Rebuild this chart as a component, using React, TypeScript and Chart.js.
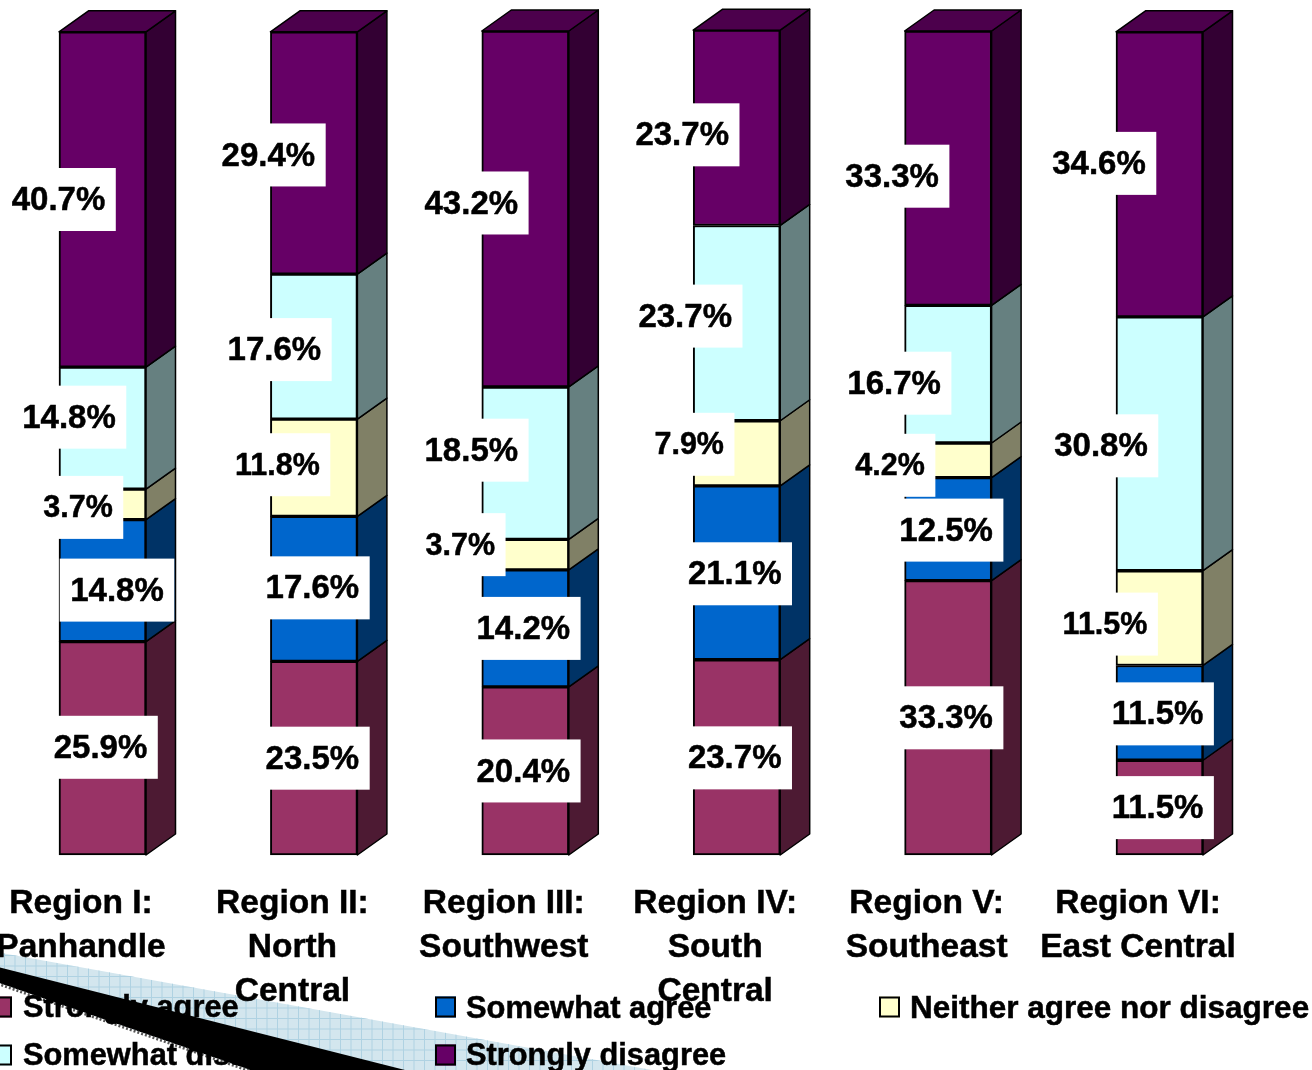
import React, { useEffect, useRef } from "react";
import { Chart, registerables } from "chart.js";

Chart.register(...registerables);

const regions = [
  ["Region I:", "Panhandle"],
  ["Region II:", "North", "Central"],
  ["Region III:", "Southwest"],
  ["Region IV:", "South", "Central"],
  ["Region V:", "Southeast"],
  ["Region VI:", "East Central"],
];

const stronglyAgree = [25.9, 23.5, 20.4, 23.7, 33.3, 11.5];
const somewhatAgree = [14.8, 17.6, 14.2, 21.1, 12.5, 11.5];
const neither = [3.7, 11.8, 3.7, 7.9, 4.2, 11.5];
const somewhatDisagree = [14.8, 17.6, 18.5, 23.7, 16.7, 30.8];
const stronglyDisagree = [40.7, 29.4, 43.2, 23.7, 33.3, 34.6];

// Label nudges relative to the centre of each segment [dx, dy], one row per series.
const nudgeStronglyAgree = [[-2, -1], [-1.5, 0], [-2, 0], [-2, 0.5], [-2, 0], [-2, 0]];
const nudgeSomewhatAgree = [[14.5, 9.5], [-1.5, -1], [-2, 0], [-2, 1], [-2, 1], [-2, 1]];
const nudgeNeither = [[-24.5, 3], [-36.5, -3], [-65, -10], [-47.5, -9], [-58, 5], [-54.5, 6]];
const nudgeSomewhatDisagree = [[-33.5, -11], [-39.5, 3], [-54, -13], [-51.5, -7], [-54, 9], [-58.5, 2]];
const nudgeStronglyDisagree = [[-44, 0], [-45.5, 2], [-54, -6], [-54.5, 7], [-56, 8], [-60.5, -11]];

const FONT = '"Liberation Sans", Arial, sans-serif';
const DEPTH_X = 29.5;
const DEPTH_Y = 21;
const CANVAS_LEFT = -4;

const seriesStyle = [
  { label: "Strongly agree", data: stronglyAgree, front: "#993366", side: "#4d1a33", top: "#732650", nudge: nudgeStronglyAgree, labelSize: 33 },
  { label: "Somewhat agree", data: somewhatAgree, front: "#0066cc", side: "#003366", top: "#004c99", nudge: nudgeSomewhatAgree, labelSize: 33 },
  { label: "Neither agree nor disagree", data: neither, front: "#ffffcc", side: "#808066", top: "#bfbf99", nudge: nudgeNeither, labelSize: 30.5 },
  { label: "Somewhat disagree", data: somewhatDisagree, front: "#ccffff", side: "#668080", top: "#99bfbf", nudge: nudgeSomewhatDisagree, labelSize: 33 },
  { label: "Strongly disagree", data: stronglyDisagree, front: "#660066", side: "#330033", top: "#4c004c", nudge: nudgeStronglyDisagree, labelSize: 33 },
];

const legendSlots = [
  { series: 0, swatch: -9, text: 23, mid: 1007, size: 30.8 },
  { series: 1, swatch: 435, text: 466, mid: 1007, size: 30.9 },
  { series: 2, swatch: 879, text: 910, mid: 1007, size: 31.5 },
  { series: 3, swatch: -9, text: 23, mid: 1055, size: 30.8 },
  { series: 4, swatch: 435, text: 466, mid: 1055, size: 30.8 },
];

const bandPlugin = {
  id: "band",
  beforeDraw(chart: any) {
    const ctx = chart.ctx;
    ctx.save();
    ctx.translate(-CANVAS_LEFT, 0);
    // light hatched stripe
    ctx.save();
    ctx.beginPath();
    ctx.moveTo(-10, 951);
    ctx.lineTo(652, 1070);
    ctx.lineTo(-10, 1070);
    ctx.closePath();
    ctx.clip();
    ctx.fillStyle = "#d3e6ee";
    ctx.fillRect(-10, 940, 680, 140);
    ctx.strokeStyle = "#afd2e2";
    ctx.lineWidth = 1;
    for (let x = -6; x < 670; x += 10.5) {
      ctx.beginPath();
      ctx.moveTo(x, 940);
      ctx.lineTo(x, 1070);
      ctx.stroke();
    }
    for (let y = 945; y < 1072; y += 10.5) {
      ctx.beginPath();
      ctx.moveTo(-10, y);
      ctx.lineTo(670, y);
      ctx.stroke();
    }
    ctx.restore();
    // black stripe
    ctx.fillStyle = "#000";
    ctx.beginPath();
    ctx.moveTo(-10, 965);
    ctx.lineTo(405, 1070);
    ctx.lineTo(250, 1070);
    ctx.lineTo(-10, 980);
    ctx.closePath();
    ctx.fill();
    // white below the stripe, with its dotted edge
    ctx.fillStyle = "#fff";
    ctx.beginPath();
    ctx.moveTo(-10, 980);
    ctx.lineTo(250, 1070);
    ctx.lineTo(-10, 1070);
    ctx.closePath();
    ctx.fill();
    ctx.strokeStyle = "#555";
    ctx.lineWidth = 3;
    ctx.setLineDash([2, 2]);
    ctx.beginPath();
    ctx.moveTo(-10, 981);
    ctx.lineTo(250, 1071);
    ctx.stroke();
    ctx.restore();
  },
};

const faces3dPlugin = {
  id: "faces3d",
  beforeDatasetsDraw(chart: any) {
    const ctx = chart.ctx;
    ctx.save();
    ctx.strokeStyle = "#000";
    ctx.lineWidth = 1.5;
    ctx.lineJoin = "round";
    chart.data.datasets.forEach((ds: any, i: number) => {
      chart.getDatasetMeta(i).data.forEach((bar: any) => {
        const right = bar.x + bar.width / 2;
        const left = bar.x - bar.width / 2;
        ctx.fillStyle = ds.sideColor;
        ctx.beginPath();
        ctx.moveTo(right, bar.y);
        ctx.lineTo(right + DEPTH_X, bar.y - DEPTH_Y);
        ctx.lineTo(right + DEPTH_X, bar.base - DEPTH_Y);
        ctx.lineTo(right, bar.base);
        ctx.closePath();
        ctx.fill();
        ctx.stroke();
        if (i === chart.data.datasets.length - 1) {
          ctx.fillStyle = ds.topColor;
          ctx.beginPath();
          ctx.moveTo(left, bar.y);
          ctx.lineTo(left + DEPTH_X, bar.y - DEPTH_Y);
          ctx.lineTo(right + DEPTH_X, bar.y - DEPTH_Y);
          ctx.lineTo(right, bar.y);
          ctx.closePath();
          ctx.fill();
          ctx.stroke();
        }
      });
    });
    ctx.restore();
  },
};

const valueLabelPlugin = {
  id: "valueLabels",
  afterDatasetsDraw(chart: any) {
    const ctx = chart.ctx;
    ctx.save();
    ctx.textAlign = "center";
    ctx.textBaseline = "middle";
    ctx.lineJoin = "round";
    chart.data.datasets.forEach((ds: any, i: number) => {
      ctx.font = `bold ${ds.labelSize}px ${FONT}`;
      chart.getDatasetMeta(i).data.forEach((bar: any, j: number) => {
        const text = `${ds.data[j].toFixed(1)}%`;
        const [dx, dy] = ds.labelNudge[j];
        const cx = bar.x + dx;
        const cy = (bar.y + bar.base) / 2 + dy;
        const w = ctx.measureText(text).width + 21;
        ctx.fillStyle = "#fff";
        ctx.fillRect(cx - w / 2, cy - 31.5, w, 63);
        ctx.fillStyle = "#000";
        ctx.strokeStyle = "#000";
        ctx.lineWidth = 0.5;
        ctx.fillText(text, cx, cy + 1.5);
        ctx.strokeText(text, cx, cy + 1.5);
      });
    });
    ctx.restore();
  },
};

const legendPlugin = {
  id: "sideLegend",
  afterDraw(chart: any) {
    const ctx = chart.ctx;
    ctx.save();
    ctx.translate(-CANVAS_LEFT, 0);
    ctx.textAlign = "left";
    ctx.textBaseline = "middle";
    legendSlots.forEach((slot) => {
      const ds = chart.data.datasets[slot.series];
      ctx.fillStyle = ds.backgroundColor;
      ctx.strokeStyle = "#000";
      ctx.lineWidth = 2;
      ctx.fillRect(slot.swatch, slot.mid - 10.5, 21, 21);
      ctx.strokeRect(slot.swatch + 1, slot.mid - 9.5, 19, 19);
      ctx.font = `bold ${slot.size}px ${FONT}`;
      ctx.fillStyle = "#000";
      ctx.lineWidth = 0.5;
      ctx.fillText(ds.label, slot.text, slot.mid + 2);
      ctx.strokeText(ds.label, slot.text, slot.mid + 2);
    });
    ctx.restore();
  },
};

export default function App() {
  const ref = useRef<HTMLCanvasElement>(null);
  useEffect(() => {
    const chart = new Chart(ref.current as HTMLCanvasElement, {
      type: "bar",
      data: {
        labels: regions as any,
        datasets: seriesStyle.map((s) => ({
          label: s.label,
          data: s.data,
          backgroundColor: s.front,
          borderColor: "#000",
          borderWidth: 2,
          borderSkipped: false,
          barThickness: 87,
          clip: false,
          sideColor: s.side,
          topColor: s.top,
          labelNudge: s.nudge,
          labelSize: s.labelSize,
        })) as any,
      },
      options: {
        responsive: false,
        animation: false,
        events: [],
        layout: { padding: { top: 31, left: 0.8, right: 46.8, bottom: 0 } },
        plugins: { legend: { display: false }, tooltip: { enabled: false }, title: { display: false } },
        scales: {
          x: {
            stacked: true,
            grid: { display: false },
            border: { display: false },
            afterFit: (scale: any) => {
              scale.height = 215;
              scale.paddingLeft = 0;
              scale.paddingRight = 0;
            },
            ticks: {
              color: "#000",
              textStrokeColor: "#000",
              textStrokeWidth: 0.5,
              autoSkip: false,
              maxRotation: 0,
              minRotation: 0,
              padding: 18.8,
              labelOffset: -21.5,
              font: { family: FONT, weight: "bold", size: 33.5, lineHeight: 1.31 },
            },
          },
          y: { stacked: true, display: false, min: 0, max: 100 },
        },
      },
      plugins: [bandPlugin, faces3dPlugin, valueLabelPlugin, legendPlugin],
    } as any);
    return () => chart.destroy();
  }, []);
  return (
    <div style={{ position: "fixed", inset: 0, overflow: "hidden", background: "#fff" }}>
      <canvas
        ref={ref}
        width={1316}
        height={1070}
        style={{ position: "absolute", left: CANVAS_LEFT, top: 0, display: "block" }}
      />
    </div>
  );
}
